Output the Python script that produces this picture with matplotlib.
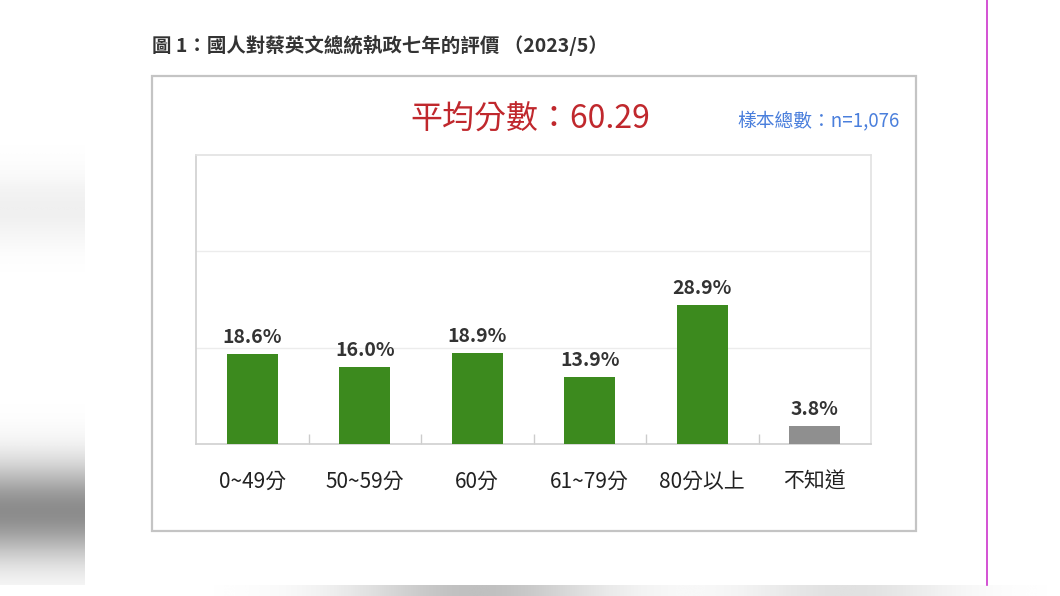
import numpy as np
import matplotlib
matplotlib.use("Agg")
import matplotlib.pyplot as plt
from matplotlib.patches import Rectangle
from matplotlib.lines import Line2D

plt.rcParams['font.family'] = ['Noto Sans CJK TC', 'DejaVu Sans']

categories = ['0~49分', '50~59分', '60分', '61~79分', '80分以上', '不知道']
shares = [18.6, 16.0, 18.9, 13.9, 28.9, 3.8]
bar_colors = ['#3c8a1e', '#3c8a1e', '#3c8a1e', '#3c8a1e', '#3c8a1e', '#8f8f8f']

title = '圖 1：國人對蔡英文總統執政七年的評價 （2023/5）'
mean_text = '平均分數：60.29'
sample_text = '樣本總數：n=1,076'

W, H = 1060, 596
fig = plt.figure(figsize=(W / 100, H / 100), dpi=100)
fig.patch.set_facecolor('white')

# soft blurred strips of the screenshot around the page
bg = fig.add_axes([0, 0, 1, 1], zorder=-5)
bg.set_xlim(0, W)
bg.set_ylim(H, 0)
bg.axis('off')
yy = np.linspace(0, 1, 200)[:, None]
left_grad = 1 - 0.45 * np.exp(-((yy - 0.86) / 0.08) ** 2) - 0.06 * np.exp(-((yy - 0.35) / 0.06) ** 2)
bg.imshow(np.repeat(left_grad, 10, axis=1), cmap='gray', vmin=0, vmax=1,
          extent=[0, 85, H, 0], aspect='auto', interpolation='bicubic')
xx = np.linspace(0, 1, 300)[None, :]
bottom_grad = 1 - 0.25 * np.exp(-((xx - 0.45) / 0.12) ** 2) - 0.12 * np.exp(-((xx - 0.8) / 0.1) ** 2)
bg.imshow(np.repeat(bottom_grad, 5, axis=0), cmap='gray', vmin=0, vmax=1,
          extent=[0, W, H, 585], aspect='auto', interpolation='bicubic')
bg.add_line(Line2D([987, 987], [0, 585], color='#cc33cc', lw=1.2))

# outer frame of the figure box
fig.patches.append(Rectangle((152 / W, 1 - 531 / H), (916 - 152) / W, (531 - 76) / H,
                             transform=fig.transFigure, fill=False,
                             edgecolor='#c4c4c4', lw=1.6, zorder=1))

fig.text(152 / W, 1 - 46 / H, title, fontsize=14, fontweight='bold',
         color='#333333', va='center', ha='left')
fig.text(530 / W, 1 - 119 / H, mean_text, fontsize=23, fontweight='medium',
         color='#c0282d', va='center', ha='center')
fig.text(900 / W, 1 - 121 / H, sample_text, fontsize=13.5, color='#4a7fdc',
         va='center', ha='right')

ax = fig.add_axes([196 / W, 1 - 444 / H, 675 / W, (444 - 155) / H])
x = np.arange(len(categories))
bars = ax.bar(x, shares, width=0.45, color=bar_colors, zorder=3)
ax.set_xlim(-0.5, len(categories) - 0.5)
ax.set_ylim(0, 60)
ax.set_yticks([20, 40])
ax.yaxis.grid(True, color='#ececec', lw=1)
ax.tick_params(axis='y', left=False, labelleft=False)

ax.set_xticks(x)
ax.set_xticklabels(categories, fontsize=15, fontweight='medium', color='#222222')
ax.tick_params(axis='x', length=0, pad=19)
ax.set_xticks(np.arange(0.5, len(categories) - 0.5, 1), minor=True)
ax.tick_params(axis='x', which='minor', direction='in', length=7, color='#cccccc', width=1)

for name, sp in ax.spines.items():
    sp.set_color('#d0d0d0' if name in ('left', 'bottom') else '#e2e2e2')
    sp.set_linewidth(1.2)

for b, v in zip(bars, shares):
    ax.annotate(f'{v:.1f}%', (b.get_x() + b.get_width() / 2, v),
                xytext=(0, 5), textcoords='offset points', ha='center', va='bottom',
                fontsize=14, fontweight='bold', color='#333333')

fig.savefig('out.png', dpi=100)
